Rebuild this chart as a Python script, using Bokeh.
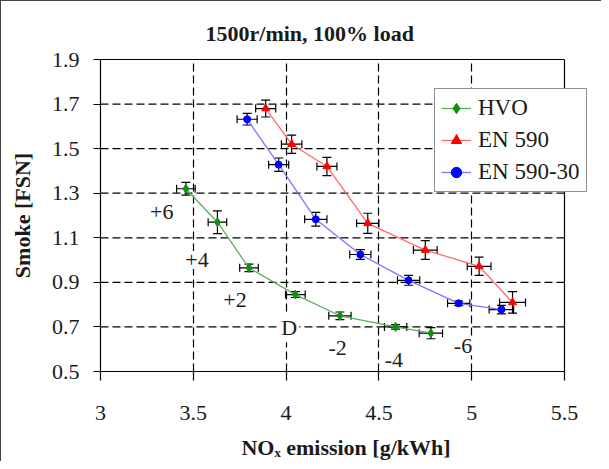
from bokeh.plotting import figure
from bokeh.models import (ColumnDataSource, Whisker, TeeHead, Label, Legend, LegendItem,
                          FixedTicker, Range1d, Span, LinearAxis)
from bokeh.embed import file_html
from bokeh.resources import INLINE

# ---- data ----
hvo_x = [3.46, 3.63, 3.80, 4.05, 4.29, 4.59, 4.78]
hvo_y = [1.32, 1.17, 0.965, 0.845, 0.75, 0.70, 0.672]
hvo_xerr = [0.05, 0.05, 0.05, 0.053, 0.06, 0.06, 0.063]
hvo_yerr = [0.029, 0.051, 0.017, 0.013, 0.017, 0.01, 0.025]

en590_x = [3.89, 4.03, 4.22, 4.44, 4.75, 5.04, 5.22]
en590_y = [1.68, 1.52, 1.42, 1.165, 1.045, 0.972, 0.81]
en590_xerr = [0.054, 0.055, 0.054, 0.06, 0.064, 0.064, 0.07]
en590_yerr = [0.038, 0.041, 0.041, 0.045, 0.042, 0.041, 0.048]

en59030_x = [3.79, 3.96, 4.16, 4.40, 4.66, 4.93, 5.16]
en59030_y = [1.632, 1.428, 1.183, 1.025, 0.909, 0.806, 0.778]
en59030_xerr = [0.054, 0.054, 0.06, 0.057, 0.06, 0.06, 0.066]
en59030_yerr = [0.026, 0.03, 0.031, 0.022, 0.022, 0.01, 0.019]

series_names = ["HVO", "EN 590", "EN 590-30"]

timing_labels = ["+6", "+4", "+2", "D", "-2", "-4", "-6"]
timing_x = [3.33, 3.52, 3.725, 4.017, 4.278, 4.581, 4.953]
timing_y = [1.215, 1.0, 0.822, 0.696, 0.605, 0.553, 0.613]

x_ticks = [3, 3.5, 4, 4.5, 5, 5.5]
y_ticks = [0.5, 0.7, 0.9, 1.1, 1.3, 1.5, 1.7, 1.9]

title_text = "1500r/min, 100% load"
x_title = "NO\u2093 emission [g/kWh]"
y_title = "Smoke [FSN]"

FONT = "Liberation Serif"
TXT = "#1a1a1a"
X_MIN, X_MAX = x_ticks[0], x_ticks[-1]
Y_MIN, Y_MAX = y_ticks[0], y_ticks[-1]
# frame is widened to the right so the legend can overhang the plot box
X_VIEW_END = 5.6455

p = figure(width=601, height=461, output_backend="svg", toolbar_location=None,
           x_range=Range1d(X_MIN, X_VIEW_END), y_range=Range1d(Y_MIN, Y_MAX),
           min_border_left=99, min_border_right=11, min_border_top=58, min_border_bottom=91)
p.styles = {"border-left": "1.5px solid #444", "border-top": "1.5px solid #444"}

p.outline_line_color = None
p.background_fill_color = "white"
p.border_fill_color = "white"

xax = p.below[0]
yax = p.left[0]

# vertical dashed grid
p.xgrid.ticker = FixedTicker(ticks=x_ticks[1:-1])
p.xgrid.grid_line_color = "black"
p.xgrid.grid_line_dash = "8 4"
p.xgrid.grid_line_width = 1.2
# horizontal dashed grid, limited to the plot box
p.ygrid.visible = False
inner_y = y_ticks[1:-1]
p.segment(x0=[X_MIN] * len(inner_y), y0=inner_y, x1=[X_MAX] * len(inner_y), y1=inner_y,
          line_color="black", line_dash="8 4", line_width=1.2, level="underlay")

# right border of the plot box
p.add_layout(Span(location=X_MAX, dimension="height", line_color="black", line_width=1.2))
# top border of the plot box
top_ax = LinearAxis(ticker=FixedTicker(ticks=[]), bounds=(X_MIN, X_MAX),
                    axis_line_color="black", axis_line_width=1.2,
                    major_tick_line_color=None, minor_tick_line_color=None,
                    major_label_text_color=None, major_label_text_font_size="1px",
                    major_tick_out=0, major_tick_in=0, major_label_standoff=0)
p.add_layout(top_ax, "above")

xax.bounds = (X_MIN, X_MAX)
xax.ticker = FixedTicker(ticks=x_ticks)
yax.ticker = FixedTicker(ticks=y_ticks)
xax.major_label_overrides = {3: "3", 4: "4", 5: "5"}
for ax in (xax, yax):
    ax.axis_line_color = "black"
    ax.axis_line_width = 1.2
    ax.major_tick_line_color = "black"
    ax.major_tick_line_width = 1.2
    ax.major_tick_in = 0
    ax.minor_tick_line_color = None
    ax.major_label_text_font = FONT
    ax.major_label_text_font_size = "22px"
    ax.major_label_text_color = TXT
    ax.axis_label_text_font = FONT
    ax.axis_label_text_font_size = "22px"
    ax.axis_label_text_font_style = "bold"
    ax.axis_label_text_color = TXT
xax.major_tick_out = 9
yax.major_tick_out = 7
xax.major_label_standoff = 25
yax.major_label_standoff = 14
xax.axis_label = x_title
yax.axis_label = y_title
xax.axis_label_standoff = 12
yax.axis_label_standoff = 14

p.title.text = title_text
p.title.align = "left"
p.title.offset = 105
p.title.text_font = FONT
p.title.text_font_size = "22px"
p.title.text_font_style = "bold"
p.title.text_color = TXT
p.title.standoff = 27

def add_series(xs, ys, xerr, yerr, line_color, mark_color, marker, size):
    src = ColumnDataSource(dict(
        x=xs, y=ys,
        xl=[a - e for a, e in zip(xs, xerr)], xu=[a + e for a, e in zip(xs, xerr)],
        yl=[a - e for a, e in zip(ys, yerr)], yu=[a + e for a, e in zip(ys, yerr)]))
    wy = Whisker(source=src, base="x", lower="yl", upper="yu", dimension="height",
                 line_color="black", line_width=1.2,
                 upper_head=TeeHead(size=9, line_color="black", line_width=1.2),
                 lower_head=TeeHead(size=9, line_color="black", line_width=1.2), level="underlay")
    wx = Whisker(source=src, base="y", lower="xl", upper="xu", dimension="width",
                 line_color="black", line_width=1.2,
                 upper_head=TeeHead(size=8, line_color="black", line_width=1.2),
                 lower_head=TeeHead(size=8, line_color="black", line_width=1.2), level="underlay")
    p.add_layout(wy)
    p.add_layout(wx)
    lr = p.line("x", "y", source=src, line_color=line_color, line_width=1.3)
    sr = p.scatter("x", "y", source=src, marker=marker, size=size,
                   fill_color=mark_color, line_color=mark_color)
    return lr, sr

r1 = add_series(hvo_x, hvo_y, hvo_xerr, hvo_yerr, "#5fae5f", "#109010", "diamond", 9)
r2 = add_series(en590_x, en590_y, en590_xerr, en590_yerr, "#ff6a6a", "#ff0000", "triangle", 8)
r3 = add_series(en59030_x, en59030_y, en59030_xerr, en59030_yerr, "#7878ff", "#0000ff", "circle", 7)

for t, tx, ty in zip(timing_labels, timing_x, timing_y):
    p.add_layout(Label(x=tx, y=ty, text=t, text_align="center", text_baseline="middle",
                       text_font=FONT, text_font_size="22px", text_color=TXT,
                       background_fill_color="white", padding=2, level="overlay"))

legend = Legend(items=[LegendItem(label=n, renderers=list(r)) for n, r in
                       zip(series_names, (r1, r2, r3))],
                location=(334, 179), margin=0, padding=6, spacing=6,
                glyph_width=30, glyph_height=26, label_height=26, label_standoff=7,
                label_text_font=FONT, label_text_font_size="23px", label_text_color=TXT,
                border_line_color="#222", border_line_width=1.2,
                background_fill_color="white", background_fill_alpha=1.0)
p.add_layout(legend)

open("out.html", "w").write(file_html(p, INLINE))
